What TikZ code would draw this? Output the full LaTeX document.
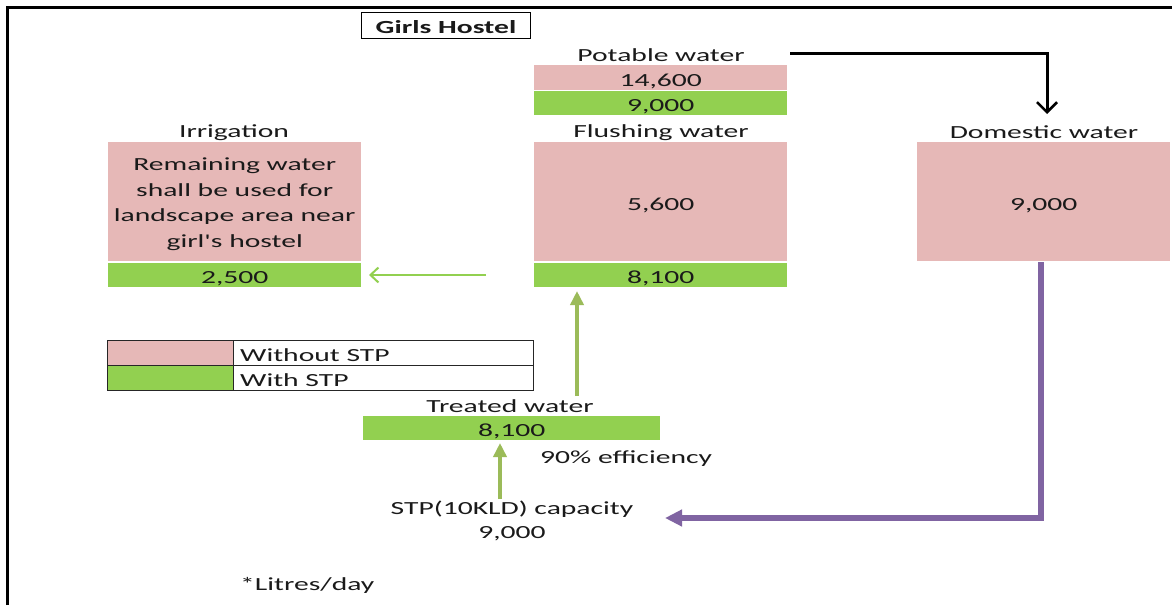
\documentclass[tikz,border=0pt]{standalone}
\usepackage{fontspec}
\newfontfamily\lab[FakeStretch=1.6]{Carlito}
\usetikzlibrary{arrows.meta}
\definecolor{pinkc}{HTML}{E6B8B7}
\definecolor{greenc}{HTML}{92D050}
\definecolor{purpc}{HTML}{8064A2}
\definecolor{olivec}{HTML}{9BBB59}
\definecolor{txt}{HTML}{1A1A1A}
\tikzset{
  every node/.style={font=\lab\fontsize{18.5}{25.6}\selectfont, text=txt, inner sep=0pt},
  numtxt/.style={text height=16.7pt, text depth=0pt},
  pinkbox/.style={fill=pinkc, minimum width=253pt, anchor=north west, numtxt},
  greenbox/.style={fill=greenc, minimum width=253pt, minimum height=24pt, anchor=north west, numtxt},
  ttl/.style={anchor=center, yshift=-2.2pt},
  lft/.style={anchor=west, yshift=-2.2pt},
  blackarr/.style={draw=black, line width=3pt, -{Straight Barb[length=10pt,width=20pt,line width=2.6pt]}},
  purparr/.style={draw=purpc, line width=5.2pt, -{Triangle[length=17pt,width=16pt]}},
  olivearr/.style={draw=olivec, line width=4.2pt, -{Triangle[length=14pt,width=13pt]}},
  thinarr/.style={draw=greenc, line width=2.2pt, -{Straight Barb[length=8pt,width=15pt,line width=2pt]}},
  legcell/.style={draw=black!85, line width=1pt, minimum height=25pt, anchor=north west},
}
\begin{document}
\begin{tikzpicture}[x=1pt,y=-1pt]
\useasboundingbox (0,0) rectangle (1172,605);
\fill[white] (0,0) rectangle (1172,605);
% frame
\draw[line width=3pt] (7,605) -- (7,7) -- (1172,7);

% title
\node[draw=black, line width=1.3pt, minimum width=169pt, minimum height=26pt, font=\lab\bfseries\fontsize{18.5}{22}\selectfont, text height=15pt, text depth=0pt] (title) at (446,25.5) {Girls Hostel};

% potable water
\node[ttl] (pot) at (661,53) {Potable water};
\node[pinkbox, minimum height=25pt] (potp) at (534,65) {14,600};
\node[greenbox] (potg) at (534,91) {9,000};

% flushing water
\node[ttl] (flu) at (661,130) {Flushing water};
\node[pinkbox, minimum height=119pt] (flup) at (534,142) {5,600};
\node[greenbox] (flug) at (534,262.5) {8,100};

% irrigation
\node[ttl] (irr) at (234,130) {Irrigation};
\node[pinkbox, minimum height=119pt] (irrp) at (108,142) {};
\node[align=center, yshift=-2.5pt] (irrt) at (irrp.center) {Remaining water\\shall be used for\\landscape area near\\girl's hostel};
\node[greenbox] (irrg) at (108,262.5) {2,500};

% domestic water
\node[ttl] (dom) at (1044,130) {Domestic water};
\node[pinkbox, minimum height=119pt] (domp) at (917,142) {9,000};

% legend
\node[legcell, fill=pinkc, minimum width=126pt] (l1) at (107,340) {};
\node[legcell, minimum width=300pt] (l1t) at (233,340) {};
\node[lft] (l1s) at (240,352.5) {Without STP};
\node[legcell, fill=greenc, minimum width=126pt] (l2) at (107,365) {};
\node[legcell, minimum width=300pt] (l2t) at (233,365) {};
\node[lft] (l2s) at (240,377.5) {With STP};

% treated water
\node[ttl] (tw) at (510,404) {Treated water};
\node[fill=greenc, minimum width=297pt, minimum height=24pt, anchor=north west, numtxt] (twg) at (363,416) {8,100};
\node[lft] (eff) at (540,456) {90\% efficiency};

% STP
\node[ttl] (stp) at (512,507) {STP(10KLD) capacity};
\node[ttl] (stpv) at (512,531) {9,000};

% note
\node[lft] (note) at (240,583) {*Litres/day};

% connectors
\coordinate (bstart) at (790,53);
\coordinate (bend) at (1047,114);
\draw[blackarr] (bstart) -| (bend);

\coordinate (pstart) at (1041,262);
\coordinate (pend) at (665,518);
\draw[purparr] (pstart) |- (pend);

\coordinate (o1s) at (577,396);
\coordinate (o1e) at (577,291);
\draw[olivearr] (o1s) -- (o1e);

\coordinate (o2s) at (500,499);
\coordinate (o2e) at (500,443);
\draw[olivearr] (o2s) -- (o2e);

\coordinate (gs) at (486,275);
\coordinate (ge) at (369,275);
\draw[thinarr] (gs) -- (ge);
\end{tikzpicture}
\end{document}
